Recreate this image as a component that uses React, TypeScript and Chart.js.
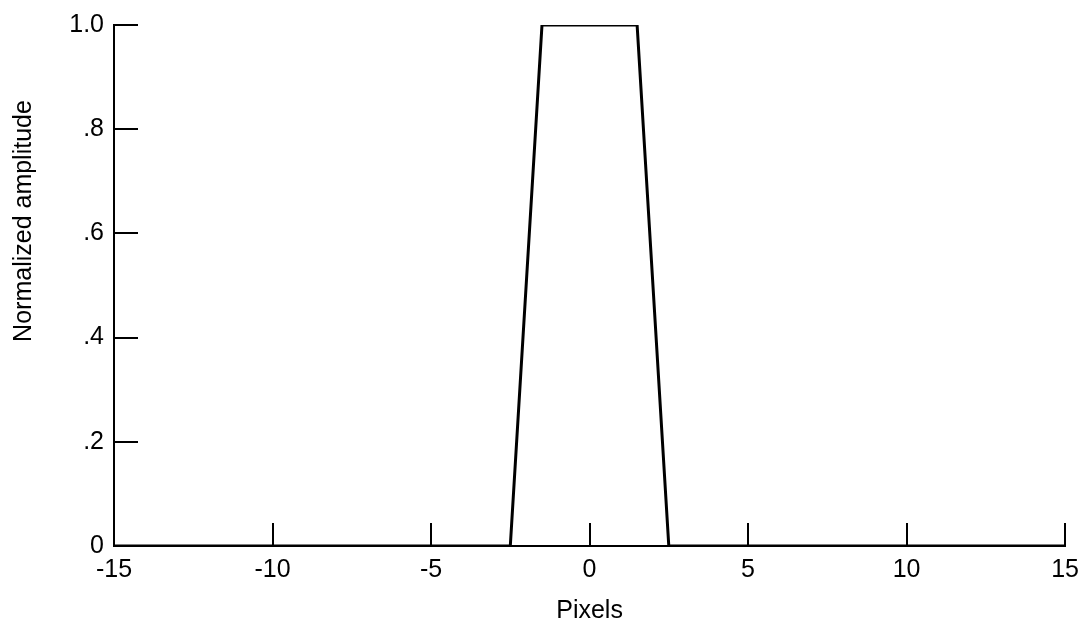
import React, { useEffect, useRef } from "react";
import { Chart, registerables } from "chart.js";

Chart.register(...registerables);

const pixelPositions = [-15, -2.5, -1.5, 1.5, 2.5, 15];
const normalizedAmplitude = [0, 0, 1, 1, 0, 0];
const xTickValues = [-15, -10, -5, 0, 5, 10, 15];
const yTickValues = [0, 0.2, 0.4, 0.6, 0.8, 1.0];
const yTickLabels = ["0", ".2", ".4", ".6", ".8", "1.0"];
const xTitle = "Pixels";
const yTitle = "Normalized amplitude";

const FONT = "'Liberation Sans', Arial, Helvetica, sans-serif";
const FS = 25;

const innerTicks = {
  id: "innerTicks",
  afterDatasetsDraw(chart: any) {
    const { ctx, chartArea, scales } = chart;
    const xs = scales.x;
    const ys = scales.y;
    ctx.save();
    ctx.strokeStyle = "#000";
    ctx.lineWidth = 2;
    ctx.beginPath();
    xTickValues.forEach((v) => {
      if (v === xs.min) return;
      const px = Math.round(xs.getPixelForValue(v));
      ctx.moveTo(px, chartArea.bottom);
      ctx.lineTo(px, chartArea.bottom - 23);
    });
    yTickValues.forEach((v) => {
      if (v === ys.min) return;
      const py = Math.round(ys.getPixelForValue(v));
      ctx.moveTo(chartArea.left, py);
      ctx.lineTo(chartArea.left + 24, py);
    });
    ctx.stroke();

    // y-axis title
    ctx.fillStyle = "#000";
    ctx.font = `${FS}px ${FONT}`;
    ctx.textAlign = "center";
    ctx.textBaseline = "middle";
    ctx.translate(24, 221);
    ctx.rotate(-Math.PI / 2);
    ctx.fillText(yTitle, 0, 0);
    ctx.restore();
  },
};

export default function App() {
  const canvasRef = useRef<HTMLCanvasElement>(null);

  useEffect(() => {
    if (!canvasRef.current) return;
    const chart = new Chart(canvasRef.current, {
      type: "line",
      data: {
        datasets: [
          {
            data: pixelPositions.map((x, i) => ({ x, y: normalizedAmplitude[i] })),
            borderColor: "#000",
            borderWidth: 3,
            pointRadius: 0,
            tension: 0,
            fill: false,
          },
        ],
      },
      options: {
        responsive: false,
        animation: false,
        layout: { padding: { top: 25, right: 20, left: 0, bottom: 0 } },
        plugins: { legend: { display: false }, tooltip: { enabled: false } },
        scales: {
          x: {
            type: "linear",
            min: -15,
            max: 15,
            afterBuildTicks: (scale: any) => {
              scale.ticks = xTickValues.map((v) => ({ value: v }));
            },
            afterFit: (scale: any) => {
              scale.height = 81;
            },
            grid: { display: true, drawOnChartArea: false, drawTicks: false },
            border: { display: true, color: "#000", width: 2 },
            ticks: {
              color: "#000",
              font: { family: FONT, size: FS },
              padding: 9,
              maxRotation: 0,
              autoSkip: false,
              callback: (v: any) => String(v),
            },
            title: {
              display: true,
              text: xTitle,
              color: "#000",
              font: { family: FONT, size: FS },
              padding: { top: 0, bottom: 1 },
            },
          },
          y: {
            type: "linear",
            min: 0,
            max: 1,
            afterBuildTicks: (scale: any) => {
              scale.ticks = yTickValues.map((v) => ({ value: v }));
            },
            afterFit: (scale: any) => {
              scale.width = 114;
            },
            grid: { display: true, drawOnChartArea: false, drawTicks: false },
            border: { display: true, color: "#000", width: 2 },
            ticks: {
              color: "#000",
              font: { family: FONT, size: FS },
              padding: 10,
              autoSkip: false,
              callback: (v: any) => {
                const i = yTickValues.findIndex((t) => Math.abs(t - v) < 1e-9);
                return i >= 0 ? yTickLabels[i] : "";
              },
            },
          },
        },
      },
      plugins: [innerTicks],
    });
    return () => chart.destroy();
  }, []);

  return (
    <div style={{ position: "fixed", left: 0, top: 0, width: 1088, height: 627, background: "#fff" }}>
      <canvas ref={canvasRef} width={1088} height={627} style={{ display: "block" }} />
    </div>
  );
}
